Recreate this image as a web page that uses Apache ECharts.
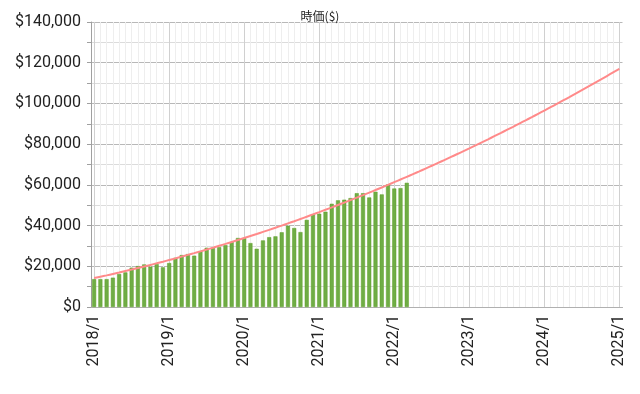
<!DOCTYPE html>
<html><head><meta charset="utf-8">
<script src="https://cdn.jsdelivr.net/npm/echarts@6/dist/echarts.min.js"></script>
<style>html,body{margin:0;padding:0;background:#fff}#c{width:640px;height:394px}</style>
</head><body><div id="c"></div>
<script>
const years = [2018, 2019, 2020, 2021, 2022, 2023, 2024, 2025];
const categories = [];
years.forEach(function (y) { for (let m = 1; m <= 12; m++) { if (y === 2025 && m > 1) break; categories.push(y + '/' + m); } });

const marketValue = [13700,13700,13700,14400,16200,17000,19300,20100,20900,19800,21100,19500,
  21600,24200,25500,26000,25200,27500,29100,29000,29400,30400,31900,33900,
  33900,31400,28600,32700,34300,34700,36700,39900,38800,36800,42800,45600,
  45800,46800,50700,52400,52700,53500,55900,55900,53800,56600,55300,60200,
  58200,58400,61000];

const trend = [14200,14870,15540,16240,16940,17660,18390,19140,19900,20670,21450,22250,
  23070,23890,24730,25590,26450,27330,28230,29130,30060,30990,31940,32900,
  33870,34860,35860,36880,37910,38950,40000,41070,42150,43250,44360,45480,
  46620,47770,48930,50110,51300,52500,53720,54950,56200,57450,58720,60010,
  61310,62620,63940,65280,66630,68000,69380,70770,72180,73600,75030,76470,
  77930,79410,80890,82390,83910,85430,86980,88530,90100,91680,93270,94880,
  96500,98140,99790,101450,103120,104810,106510,108230,109960,111700,113460,115230,
  117010];

const chart = echarts.init(document.getElementById('c'), null, {renderer: 'canvas'});
const font = 'Roboto, "Noto Sans CJK JP", sans-serif';
chart.setOption({
  animation: false,
  title: {text: '時価($)', left: 'center', top: 5,
    textStyle: {fontSize: 12, fontWeight: 'normal', color: '#222', fontFamily: '"Noto Sans CJK JP", sans-serif'}},
  grid: {left: 91, right: 17.5, top: 22, bottom: 87},
  xAxis: [{
    type: 'category', data: categories, boundaryGap: true,
    axisLine: {lineStyle: {color: '#b0b0b0'}},
    axisTick: {show: false},
    axisLabel: {show: false},
    splitLine: {show: true, interval: 0, alignWithLabel: true, lineStyle: {color: '#eeeeee', width: 1}}
  }, {
    type: 'category', data: categories, boundaryGap: true, position: 'bottom',
    axisLine: {show: false},
    axisTick: {show: false},
    axisLabel: {interval: 11, rotate: 90, fontSize: 16, color: '#222', fontFamily: font, margin: 8},
    splitLine: {show: true, interval: 11, alignWithLabel: true, lineStyle: {color: '#d0d0d0', width: 1}}
  }],
  yAxis: {
    type: 'value', min: 0, max: 140000, interval: 20000,
    axisLine: {show: true, lineStyle: {color: '#a0a0a0'}},
    axisTick: {show: true, length: 4, lineStyle: {color: '#a0a0a0'}},
    minorTick: {show: true, splitNumber: 2, length: 4, lineStyle: {color: '#a0a0a0'}},
    axisLabel: {fontSize: 16, color: '#222', fontFamily: font, margin: 10,
      formatter: function (v) { return '$' + v.toLocaleString('en-US'); }},
    splitLine: {lineStyle: {color: '#b8b8b8', width: 1}},
    minorSplitLine: {show: true, lineStyle: {color: '#dcdcdc', width: 1}}
  },
  series: [{
    type: 'bar', xAxisIndex: 0, data: marketValue, barWidth: 4,
    itemStyle: {color: '#6fad45', borderColor: '#5e9e26', borderWidth: 0.5}
  }, {
    type: 'line', xAxisIndex: 0, data: trend, smooth: true, showSymbol: false,
    lineStyle: {color: '#ff8a8a', width: 2}, z: 5
  }]
});
</script></body></html>
